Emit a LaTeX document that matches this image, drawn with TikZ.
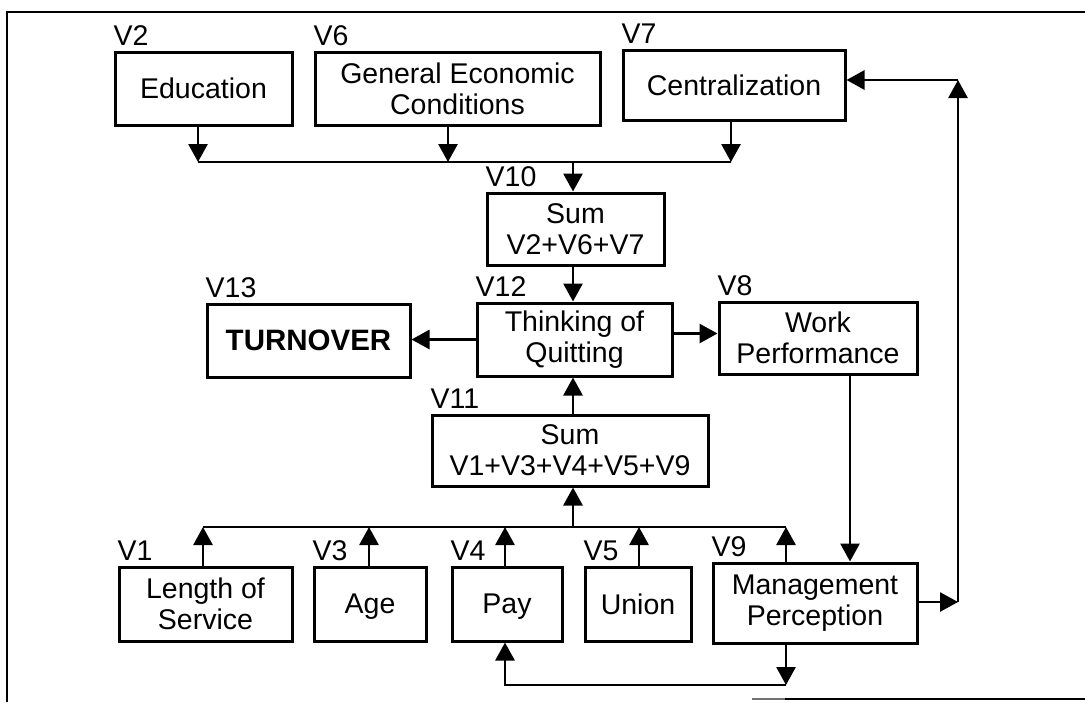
\documentclass[tikz,border=0pt]{standalone}
\usepackage{fontspec}
\setmainfont{Liberation Sans}
\usetikzlibrary{arrows.meta}
% set a word with its descenders ignored, so it centres on its capitals
\newcommand\flatbase[1]{\setbox0=\hbox{#1}\dp0=0pt \box0}

\begin{document}
\begin{tikzpicture}[x=1pt,y=-1pt,
  txt/.style={font=\fontsize{28.5}{31}\selectfont},
  box/.style={draw, line width=3pt, align=center, inner sep=0pt, txt},
  vlab/.style={anchor=base west, inner sep=0pt, txt},
  conn/.style={line width=2.8pt},
  arr/.style={conn, -{Triangle[length=18pt,width=19pt]}},
  frame/.style={line width=2.2pt}
]
\useasboundingbox (0,0) rectangle (1085,702);

% outer frame
\draw[frame] (7,702) -- (7,12) -- (1085,12);
\draw[frame, black!55] (752,699) -- (785,699);
\draw[frame] (785,699) -- (1085,699);

% boxes
\node[box, minimum width=177pt, minimum height=73pt] (edu) at (203.5,88.5) {Education};
\node[box, minimum width=285pt, minimum height=73pt] (gec) at (457.5,88.5) {General Economic\\Conditions};
\node[box, minimum width=222pt, minimum height=70pt] (cen) at (734,85) {Centralization};
\node[box, minimum width=177pt, minimum height=72pt] (s10) at (575.5,229) {Sum\\V2+V6+V7};
\node[box, minimum width=203pt, minimum height=73pt, font=\fontsize{29.5}{31}\selectfont\bfseries] (turn) at (308.5,340.5) {TURNOVER};
\node[box, minimum width=195pt, minimum height=73pt] (think) at (574.5,339.5) {Thinking of\\Quitting};
\node[box, minimum width=198pt, minimum height=72pt] (work) at (818,338) {Work\\Performance};
\node[box, minimum width=276pt, minimum height=71pt] (s11) at (570,450.5) {Sum\\V1+V3+V4+V5+V9};
\node[box, minimum width=173pt, minimum height=74pt] (los) at (205.5,604) {Length of\\Service};
\node[box, minimum width=112pt, minimum height=74pt] (age) at (370,604) {\flatbase{Age}};
\node[box, minimum width=110pt, minimum height=74pt] (pay) at (507,604) {\flatbase{Pay}};
\node[box, minimum width=106pt, minimum height=74pt] (uni) at (638,604) {Union};
\node[box, minimum width=204pt, minimum height=80pt] (mgt) at (815,603) {Management\\Perception};

% variable labels
\foreach \n/\t in {edu/V2, gec/V6, cen/V7, s10/V10, turn/V13, think/V12, work/V8,
                   s11/V11, los/V1, age/V3, pay/V4, uni/V5, mgt/V9}
  \node[vlab] (lab-\n) at ([yshift=5pt]\n.north west) {\t};

% upper collecting line
\coordinate (bA) at (198,162);
\coordinate (bB) at (448,162);
\coordinate (bM) at (573,162);
\coordinate (bC) at (731,162);
\draw[conn] (bA) -- (bC);
\draw[arr] (bA |- edu.south) -- (bA);
\draw[arr] (bB |- gec.south) -- (bB);
\draw[arr] (bC |- cen.south) -- (bC);
\draw[arr] (bM) -- (bM |- s10.north);
\draw[arr] (bM |- s10.south) -- (bM |- think.north);

% outputs of Thinking of Quitting
\draw[arr] (think.west) -- (think.west -| turn.east);
\coordinate (tw) at ([yshift=6pt]think.east);
\draw[arr] (tw) -- (tw -| work.west);

% lower collecting line
\coordinate (c1) at (203,527);
\coordinate (c3) at (369,527);
\coordinate (c4) at (505,527);
\coordinate (cM) at (573,527);
\coordinate (c5) at (639,527);
\coordinate (c9) at (786,527);
\draw[conn] (c1) -- (c9);
\draw[arr] (cM) -- (cM |- s11.south);
\draw[arr] (cM |- s11.north) -- (cM |- think.south);
\draw[arr] (c1 |- los.north) -- (c1);
\draw[arr] (c3 |- age.north) -- (c3);
\draw[arr] (c4 |- pay.north) -- (c4);
\draw[arr] (c5 |- uni.north) -- (c5);
\draw[arr] (c9 |- mgt.north) -- (c9);

% Work Performance to Management Perception
\coordinate (wd) at (850,0);
\draw[arr] (wd |- work.south) -- (wd |- mgt.north);

% feedback to Centralization
\coordinate (rB) at (958,602);
\coordinate (rT) at (958,80);
\draw[arr] (mgt.east |- rB) -- (rB);
\draw[arr] (rB) -- (rT);
\draw[arr] (rT) -- (rT -| cen.east);

% feedback to Pay
\coordinate (dR) at (786,685);
\coordinate (dL) at (505,685);
\draw[arr] (dR |- mgt.south) -- (dR);
\draw[arr] (dR) -- (dL) -- (dL |- pay.south);
\end{tikzpicture}
\end{document}
